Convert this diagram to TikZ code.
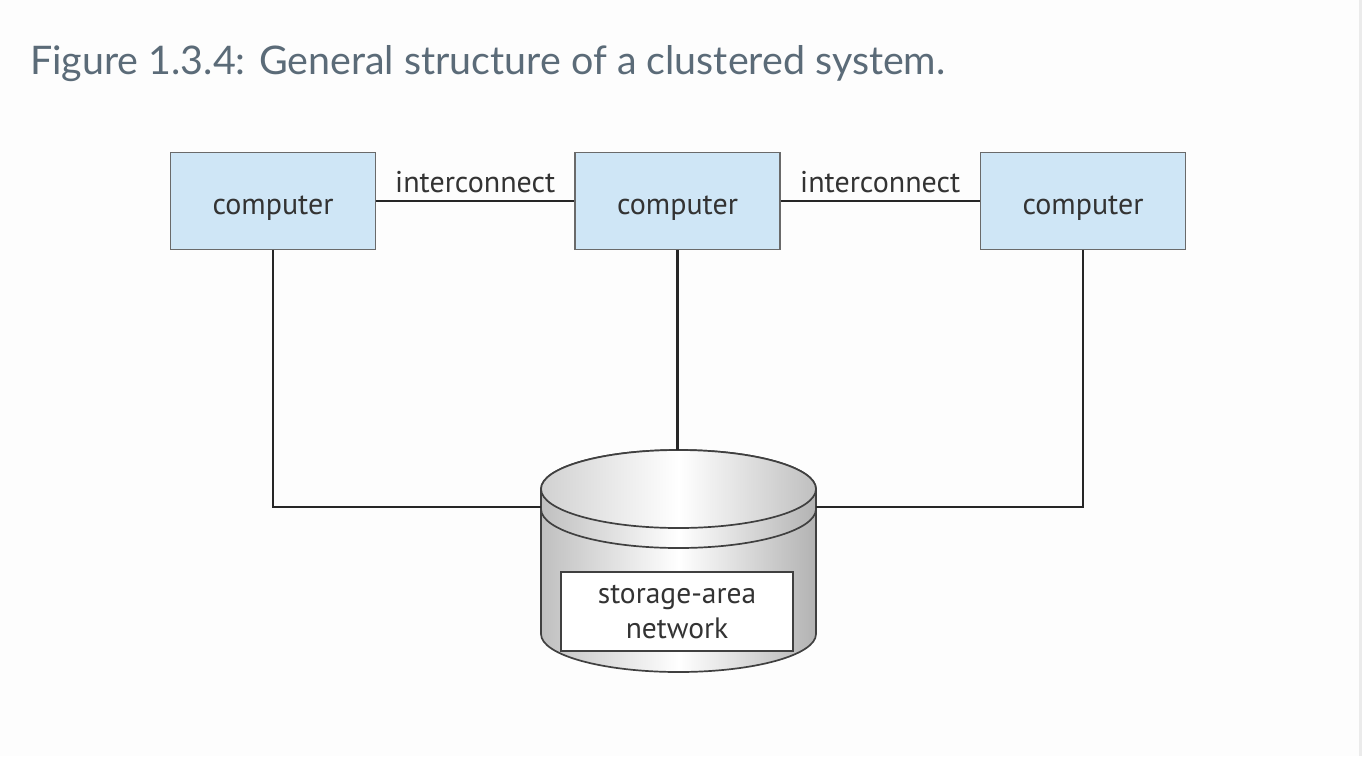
\documentclass[tikz,border=0pt]{standalone}
\usepackage{fontspec}
\setmainfont{PT Sans}
\newfontfamily\titlefont{Lato}
\definecolor{boxblue}{HTML}{CFE6F6}
\definecolor{boxline}{HTML}{6A6A6A}
\definecolor{titlecol}{HTML}{5B6B78}
\definecolor{txt}{HTML}{333333}
\definecolor{bg}{HTML}{FDFDFD}
\tikzset{
  comp/.style={draw=boxline, line width=1.5pt, fill=boxblue, minimum width=205pt, minimum height=97pt, inner sep=0pt, font=\fontsize{30}{36}\selectfont, text=txt},
  wire/.style={draw=black!85, line width=2.7pt},
  lbl/.style={font=\fontsize{30}{36}\selectfont, text=txt, inner sep=0pt},
  cyl/.style={draw=black!75, line width=1.7pt}
}
\begin{document}
\begin{tikzpicture}[x=1pt,y=-1pt]
\fill[bg] (0,0) rectangle (1362,756);
\useasboundingbox (0,0) rectangle (1362,756);
\fill[black!8] (1359,0) rectangle (1362,756);
\node[anchor=base west, text=titlecol, font=\titlefont\fontsize{39.4}{44}\selectfont, inner sep=0pt] (title) at (30,74) {Figure 1.3.4: General structure of a clustered system.};
\node[comp, text depth=0pt] (c1) at (273,201) {\raisebox{-9pt}{computer}};
\node[comp, text depth=0pt] (c2) at (677.5,201) {\raisebox{-9pt}{computer}};
\node[comp, text depth=0pt] (c3) at (1083,201) {\raisebox{-9pt}{computer}};
\draw[wire] (c1.east) -- node[lbl, above=7pt] (i1) {interconnect} (c2.west);
\draw[wire] (c2.east) -- node[lbl, above=7pt] (i2) {interconnect} (c3.west);
% cylinder
\coordinate (cl) at (541,507);
\coordinate (cr) at (816,507);
\shade[left color=black!25, right color=black!30, middle color=white, cyl]
  (541,489) -- (541,634) arc[start angle=180, end angle=0, x radius=137.5, y radius=38] -- (816,489) arc[start angle=0, end angle=-180, x radius=137.5, y radius=39] -- cycle;
\draw[cyl] (541,509) arc[start angle=180, end angle=0, x radius=137.5, y radius=39];
\shade[left color=black!18, right color=black!25, middle color=white, cyl] (678.5,489) ellipse[x radius=137.5, y radius=39];
\node[draw=black!75, line width=1.5pt, fill=white, minimum width=232pt, minimum height=79pt, inner sep=0pt, align=center, font=\fontsize{29.5}{35}\selectfont, text=txt] (san) at (677,611.5) {storage-area\\network};
\coordinate (ctop) at (677.5,450);
\draw[wire] (c1.south) |- (cl);
\draw[wire] (c3.south) |- (cr);
\draw[wire] (c2.south) -- (ctop);
\end{tikzpicture}
\end{document}
